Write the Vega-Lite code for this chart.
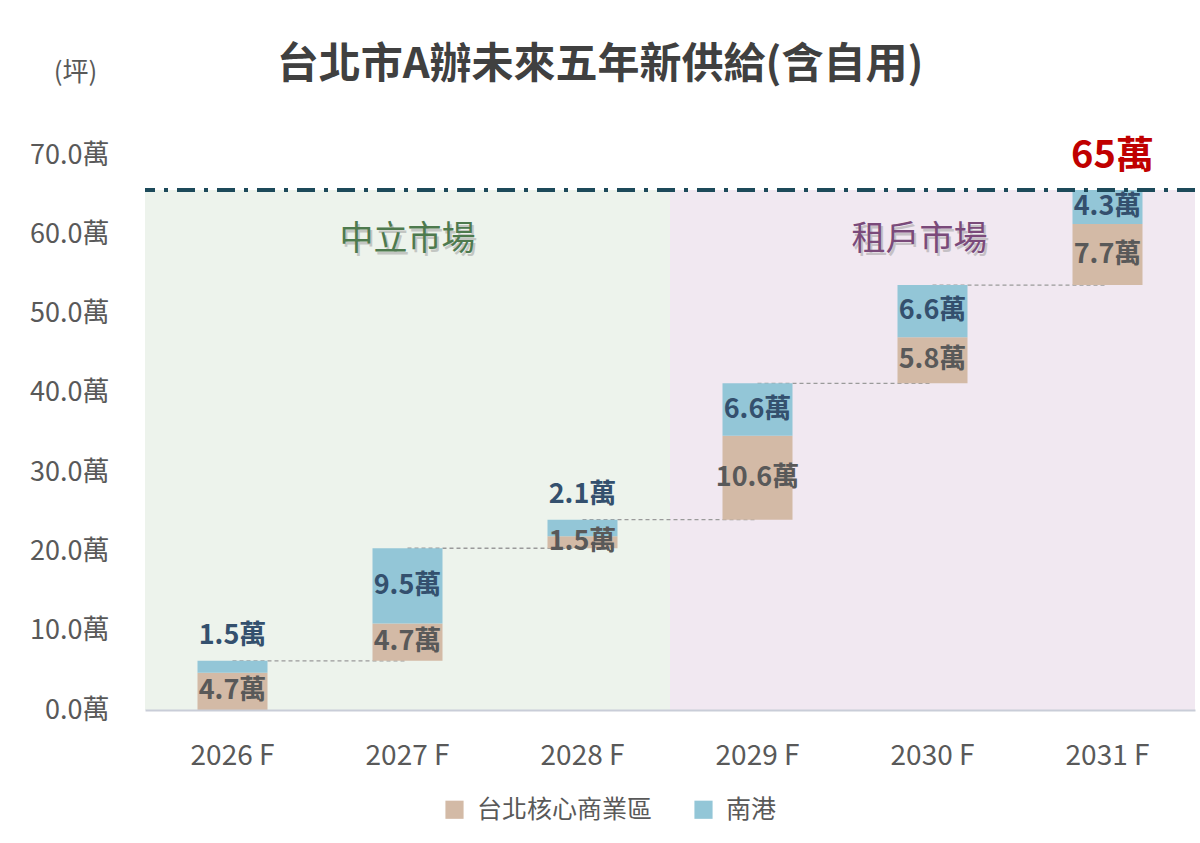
{
  "$schema": "https://vega.github.io/schema/vega-lite/v6.json",
  "width": 1050,
  "height": 555,
  "autosize": {"type": "none"},
  "padding": {"left": 145, "top": 155, "right": 5, "bottom": 133},
  "background": "white",
  "config": {
    "font": "Noto Sans CJK TC",
    "view": {"stroke": null}
  },
  "title": {
    "text": "台北市A辦未來五年新供給(含自用)",
    "fontSize": 42,
    "fontWeight": "bold",
    "color": "#404040",
    "font": "Noto Sans CJK TC",
    "anchor": "middle",
    "baseline": "bottom",
    "dx": -70,
    "offset": -70
  },
  "datasets": {
    "supply": [
      {"year": "2026 F", "cat": "台北核心商業區", "value": 4.7, "start": 0, "end": 4.7, "label": "4.7萬"},
      {"year": "2026 F", "cat": "南港", "value": 1.5, "start": 4.7, "end": 6.2, "label": "1.5萬"},
      {"year": "2027 F", "cat": "台北核心商業區", "value": 4.7, "start": 6.2, "end": 10.9, "label": "4.7萬"},
      {"year": "2027 F", "cat": "南港", "value": 9.5, "start": 10.9, "end": 20.4, "label": "9.5萬"},
      {"year": "2028 F", "cat": "台北核心商業區", "value": 1.5, "start": 20.4, "end": 21.9, "label": "1.5萬"},
      {"year": "2028 F", "cat": "南港", "value": 2.1, "start": 21.9, "end": 24.0, "label": "2.1萬"},
      {"year": "2029 F", "cat": "台北核心商業區", "value": 10.6, "start": 24.0, "end": 34.6, "label": "10.6萬"},
      {"year": "2029 F", "cat": "南港", "value": 6.6, "start": 34.6, "end": 41.2, "label": "6.6萬"},
      {"year": "2030 F", "cat": "台北核心商業區", "value": 5.8, "start": 41.2, "end": 47.0, "label": "5.8萬"},
      {"year": "2030 F", "cat": "南港", "value": 6.6, "start": 47.0, "end": 53.6, "label": "6.6萬"},
      {"year": "2031 F", "cat": "台北核心商業區", "value": 7.7, "start": 53.6, "end": 61.3, "label": "7.7萬"},
      {"year": "2031 F", "cat": "南港", "value": 4.3, "start": 61.3, "end": 65.6, "label": "4.3萬"}
    ],
    "links": [
      {"from": "2026 F", "to": "2027 F", "level": 6.2},
      {"from": "2027 F", "to": "2028 F", "level": 20.4},
      {"from": "2028 F", "to": "2029 F", "level": 24.0},
      {"from": "2029 F", "to": "2030 F", "level": 41.2},
      {"from": "2030 F", "to": "2031 F", "level": 53.6}
    ],
    "years": [
      {"year": "2026 F", "market": "中立市場"},
      {"year": "2027 F", "market": "中立市場"},
      {"year": "2028 F", "market": "中立市場"},
      {"year": "2029 F", "market": "租戶市場"},
      {"year": "2030 F", "market": "租戶市場"},
      {"year": "2031 F", "market": "租戶市場"}
    ],
    "total": [{"year": "2031 F", "t": "65萬", "total": 65.6}]
  },
  "encoding": {
    "x": {
      "field": "year",
      "type": "ordinal",
      "sort": ["2026 F", "2027 F", "2028 F", "2029 F", "2030 F", "2031 F"],
      "scale": {"paddingInner": 0, "paddingOuter": 0},
      "axis": {
        "title": null,
        "labelAngle": 0,
        "labelFontSize": 28,
        "labelColor": "#595959",
        "labelPadding": 32,
        "domainColor": "#c9cdd8",
        "domainWidth": 2,
        "ticks": false,
        "grid": false
      }
    }
  },
  "layer": [
    {
      "data": {"name": "years"},
      "transform": [{"filter": "datum.market === '中立市場'"}],
      "mark": {"type": "rect", "color": "#edf3ec", "opacity": 1},
      "encoding": {
        "y": {
          "datum": 0,
          "type": "quantitative",
          "scale": {"domain": [0, 70], "nice": false},
          "axis": {
            "values": [0, 10, 20, 30, 40, 50, 60, 70],
            "labelExpr": "format(datum.value, '.1f') + '萬'",
            "labelFontSize": 27,
            "labelColor": "#595959",
            "labelPadding": 36,
            "ticks": false,
            "domain": false,
            "grid": false,
            "title": "(坪)",
            "titleAngle": 0,
            "titleFontSize": 26,
            "titleFontWeight": "normal",
            "titleColor": "#595959",
            "titleX": -70,
            "titleY": -83,
            "titleAlign": "center",
            "titleBaseline": "middle"
          }
        },
        "y2": {"datum": 65.6}
      }
    },
    {
      "data": {"name": "years"},
      "transform": [{"filter": "datum.market === '租戶市場'"}],
      "mark": {"type": "rect", "color": "#f1e8f1", "opacity": 1},
      "encoding": {
        "y": {"datum": 0, "type": "quantitative"},
        "y2": {"datum": 65.6}
      }
    },
    {
      "data": {"name": "links"},
      "mark": {"type": "rule", "color": "#9a9a9a", "strokeWidth": 1.3, "strokeDash": [4, 3]},
      "encoding": {
        "x": {"field": "from", "type": "ordinal", "sort": ["2026 F", "2027 F", "2028 F", "2029 F", "2030 F", "2031 F"]},
        "x2": {"field": "to"},
        "y": {"field": "level", "type": "quantitative"}
      }
    },
    {
      "data": {"name": "supply"},
      "mark": {"type": "bar", "width": {"band": 0.4}},
      "encoding": {
        "y": {"field": "start", "type": "quantitative"},
        "y2": {"field": "end"},
        "color": {
          "field": "cat",
          "type": "nominal",
          "sort": ["台北核心商業區", "南港"],
          "scale": {"domain": ["台北核心商業區", "南港"], "range": ["#d3baa6", "#93c6d7"]},
          "legend": {
            "title": null,
            "orient": "none",
            "direction": "horizontal",
            "legendX": 297,
            "legendY": 642,
            "symbolType": "square",
            "symbolSize": 330,
            "symbolStrokeWidth": 0,
            "symbolOpacity": 1,
            "labelFontSize": 25,
            "labelColor": "#595959",
            "labelOffset": 10,
            "labelLimit": 400,
            "columnPadding": 38
          }
        }
      }
    },
    {
      "data": {"name": "total"},
      "mark": {"type": "rule", "color": "#1d4a5a", "strokeWidth": 4, "strokeDash": [18, 9, 4, 9]},
      "encoding": {"x": null, "y": {"field": "total", "type": "quantitative"}}
    },
    {
      "data": {"name": "supply"},
      "transform": [
        {"filter": "!(datum.cat === '南港' && datum.value < 3)"},
        {"fold": ["start", "end"], "as": ["k", "v"]},
        {"aggregate": [{"op": "mean", "field": "v", "as": "mid"}], "groupby": ["year", "cat", "label", "value"]}
      ],
      "mark": {"type": "text", "fontSize": 27, "fontWeight": "bold", "baseline": "middle", "align": "center"},
      "encoding": {
        "y": {"field": "mid", "type": "quantitative"},
        "text": {"field": "label"},
        "color": {"condition": {"test": "datum.cat === '南港'", "value": "#34506e"}, "value": "#595959"}
      }
    },
    {
      "data": {"name": "supply"},
      "transform": [{"filter": "datum.cat === '南港' && datum.value < 3"}],
      "mark": {"type": "text", "fontSize": 27, "fontWeight": "bold", "baseline": "middle", "align": "center", "dy": -25, "color": "#34506e"},
      "encoding": {
        "y": {"field": "end", "type": "quantitative"},
        "text": {"field": "label"}
      }
    },
    {
      "data": {"name": "years"},
      "transform": [{"filter": "datum.year === '2027 F'"}],
      "mark": {"type": "text", "fontSize": 34, "baseline": "middle", "align": "center", "dx": 2, "dy": 3, "color": "#9a9a9a", "opacity": 0.5},
      "encoding": {
        "y": {"datum": 59.3, "type": "quantitative"},
        "text": {"field": "market"}
      }
    },
    {
      "data": {"name": "years"},
      "transform": [{"filter": "datum.year === '2030 F'"}],
      "mark": {"type": "text", "fontSize": 34, "baseline": "middle", "align": "center", "dx": -11, "dy": 3, "color": "#9a9a9a", "opacity": 0.5},
      "encoding": {
        "y": {"datum": 59.3, "type": "quantitative"},
        "text": {"field": "market"}
      }
    },
    {
      "data": {"name": "years"},
      "transform": [{"filter": "datum.year === '2027 F'"}],
      "mark": {"type": "text", "fontSize": 34, "baseline": "middle", "align": "center", "color": "#4e7a4e"},
      "encoding": {
        "y": {"datum": 59.3, "type": "quantitative"},
        "text": {"field": "market"}
      }
    },
    {
      "data": {"name": "years"},
      "transform": [{"filter": "datum.year === '2030 F'"}],
      "mark": {"type": "text", "fontSize": 34, "baseline": "middle", "align": "center", "dx": -13, "color": "#7a4a7a"},
      "encoding": {
        "y": {"datum": 59.3, "type": "quantitative"},
        "text": {"field": "market"}
      }
    },
    {
      "data": {"name": "total"},
      "mark": {"type": "text", "fontSize": 38, "fontWeight": "bold", "baseline": "middle", "align": "center", "color": "#c00000", "dx": 5, "dy": -33},
      "encoding": {
        "y": {"field": "total", "type": "quantitative"},
        "text": {"field": "t"}
      }
    }
  ]
}
